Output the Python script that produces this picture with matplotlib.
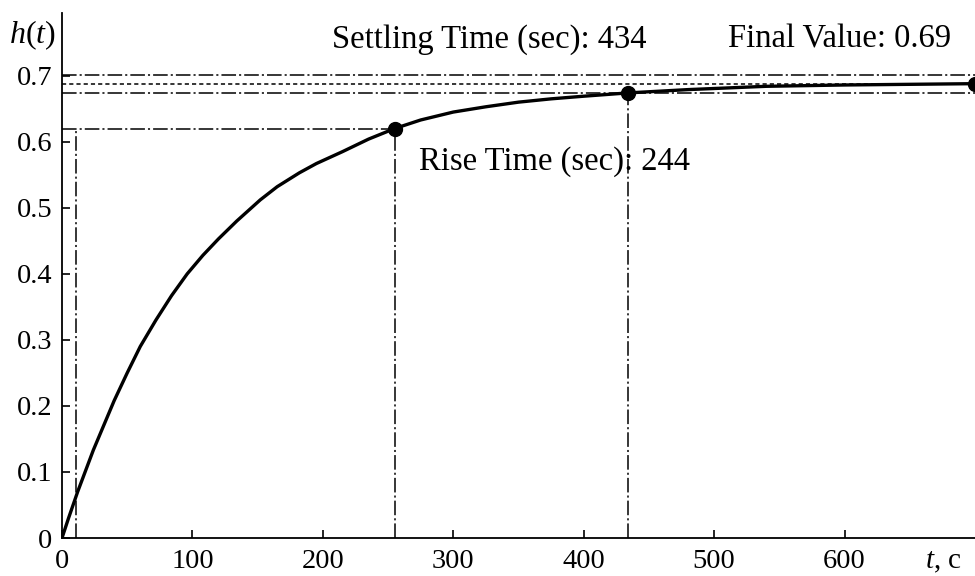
import numpy as np
import matplotlib
matplotlib.use("Agg")
import matplotlib.pyplot as plt

plt.rcParams['font.family'] = ['Liberation Serif', 'DejaVu Serif']
plt.rcParams['mathtext.fontset'] = 'custom'
plt.rcParams['mathtext.rm'] = 'Liberation Serif'
plt.rcParams['mathtext.it'] = 'Liberation Serif:italic'
plt.rcParams['lines.scale_dashes'] = False

# step response
t_vals = [0, 5, 12, 24, 40, 50, 60, 72, 84, 96, 108, 120, 134, 152, 165, 182, 195, 215,
          235, 255, 275, 300, 325, 350, 375, 400, 434, 480, 540, 600, 650, 700]
h_vals = [0, 0.03, 0.07, 0.133, 0.208, 0.25, 0.29, 0.33, 0.367, 0.40, 0.428, 0.453, 0.48,
          0.512, 0.532, 0.553, 0.567, 0.585, 0.604, 0.62, 0.633, 0.645, 0.653, 0.66,
          0.665, 0.669, 0.674, 0.679, 0.684, 0.686, 0.687, 0.688]

rise_start = 11
rise_t, rise_h = 255, 0.62
settle_t, settle_h = 434, 0.674
final_t, final_h = 700, 0.687
band_hi, band_lo = 0.701, 0.674

xticks = [0, 100, 200, 300, 400, 500, 600]
yticks = [0, 0.1, 0.2, 0.3, 0.4, 0.5, 0.6, 0.7]

DASHDOT = (10.5, 2.2, 1.5, 2.2)
SHORT = (3, 2.2)

fig = plt.figure(figsize=(9.75, 5.76), dpi=100)
ax = fig.add_axes([62/975, 38/576, 1 - 62/975, 525/576])

# guide lines
lw = 1.1
ax.plot([0, final_t], [band_hi, band_hi], color='black', lw=lw, dashes=DASHDOT)
ax.plot([0, final_t], [final_h, final_h], color='black', lw=lw, dashes=SHORT)
ax.plot([0, final_t], [band_lo, band_lo], color='black', lw=lw, dashes=DASHDOT)
ax.plot([0, rise_t], [rise_h, rise_h], color='black', lw=lw, dashes=DASHDOT)
ax.plot([rise_start, rise_start], [0, rise_h], color='black', lw=lw, dashes=DASHDOT)
ax.plot([rise_t, rise_t], [0, rise_h], color='black', lw=lw, dashes=DASHDOT)
ax.plot([settle_t, settle_t], [0, settle_h], color='black', lw=lw, dashes=DASHDOT)

# the response itself
ax.plot(t_vals, h_vals, color='black', lw=2.4, solid_capstyle='round',
        solid_joinstyle='round')
ax.plot([rise_t, settle_t, final_t], [rise_h, settle_h, final_h], 'o',
        color='black', ms=10, clip_on=False, zorder=5)

ax.text(207, 0.742, 'Settling Time (sec): 434', fontsize=23.5, va='baseline')
ax.text(511, 0.742, 'Final Value: 0.69', fontsize=23.5, va='baseline')
ax.text(274, 0.557, 'Rise Time (sec): 244', fontsize=23.5, va='baseline')

ax.set_xlim(0, 700)
ax.set_ylim(0, 0.795)
ax.set_xticks(xticks)
ax.set_xticklabels([str(v) for v in xticks])
ax.set_yticks(yticks)
ax.set_yticklabels(['0'] + ['%.1f' % v for v in yticks[1:]])
ax.tick_params(direction='in', length=6, width=1.2, labelsize=20.5)
ax.tick_params(axis='x', pad=8)
ax.tick_params(axis='y', pad=7)
ax.spines['top'].set_visible(False)
ax.spines['right'].set_visible(False)
ax.spines['left'].set_linewidth(1.3)
ax.spines['bottom'].set_linewidth(1.3)

fig.text(9/975, 1 - 43/576, r'$h(t)$', fontsize=23, va='baseline', ha='left')
fig.text(925/975, 1 - 568/576, r'$t$, с', fontsize=21, va='baseline', ha='left')

fig.savefig('out.png', dpi=100)
